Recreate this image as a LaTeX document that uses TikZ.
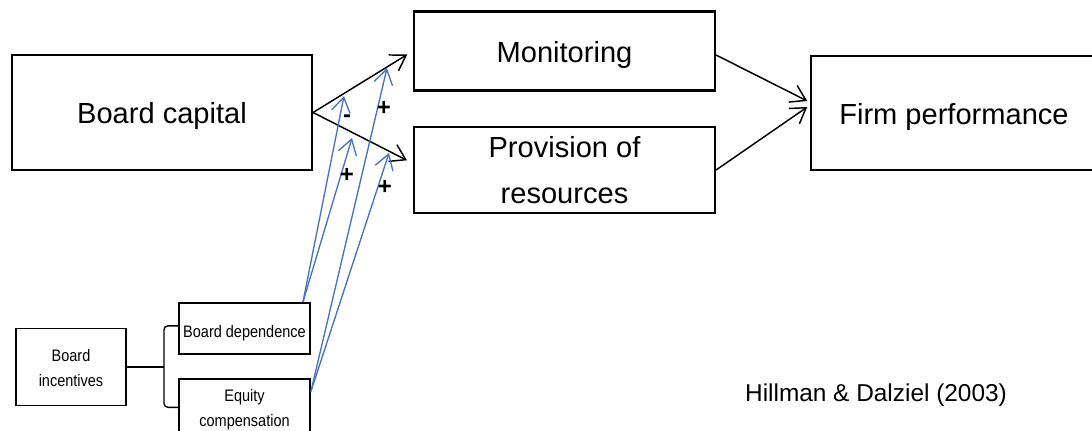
\documentclass[tikz,border=0pt]{standalone}
\usepackage{fontspec}
\setmainfont{Liberation Sans}
\newfontfamily\narrowsf[FakeStretch=0.87]{Liberation Sans}
\usetikzlibrary{arrows.meta,calc}
\definecolor{linkblue}{RGB}{68,114,196}
\tikzset{
  >={Straight Barb[length=11pt,width=14pt]},
  bx/.style={draw,line width=1.6pt,inner sep=0pt,align=center,font=\fontsize{21.8}{34.5}\selectfont},
  one/.style={text height=21pt,text depth=4.5pt},
  sb/.style={draw,line width=1.4pt,inner sep=0pt,align=center,font=\narrowsf\fontsize{12.5}{19}\selectfont},
  ar/.style={->,line width=1.1pt},
  bl/.style={->,draw=linkblue,line width=1pt},
  sg/.style={inner sep=0pt,font=\fontsize{18}{18}\selectfont\bfseries},
}
\begin{document}
\begin{tikzpicture}[x=0.75pt,y=-0.75pt]
\useasboundingbox (0,0) rectangle (1092,430);
\node[bx,one,minimum width=225pt,minimum height=86.25pt] (cap) at (162,112.5) {Board capital};
\node[bx,one,minimum width=225.75pt,minimum height=59.25pt] (mon) at (564.5,51) {Monitoring};
\node[bx,minimum width=225.75pt,minimum height=64.5pt] (prov) at (564.5,170) {\rule{0pt}{16.5pt}Provision of\\resources};
\node[bx,one,minimum width=214.5pt,minimum height=85.5pt] (firm) at (954,113) {Firm performance};
\node[sb,minimum width=82.5pt,minimum height=57.75pt] (inc) at (71,367) {\rule{0pt}{11pt}Board\\incentives};
\node[sb,text height=15.5pt,text depth=2.7pt,minimum width=98.25pt,minimum height=38.25pt] (dep) at (244.5,328.5) {Board dependence};
\node[sb,minimum width=98.25pt,minimum height=46.5pt] (eq) at (244.5,410) {Equity\\compensation};
\draw[ar,shorten >=5pt] (cap.east) -- (mon.west); \draw[ar,shorten >=5pt] (cap.east) -- ([yshift=5pt]prov.west);
\draw[ar] ([yshift=-3pt]mon.east) -- ([xshift=-2pt,yshift=9pt]firm.west);
\draw[ar] (prov.east) -- ([xshift=-2pt,yshift=4.5pt]firm.west);
\coordinate (br) at ($(inc.east)+(37,0)$);
\draw[line width=1pt] (inc.east) -- (br);
\draw[line width=1pt,rounded corners=3pt] ([yshift=2pt]dep.west) -| (br) |- ([yshift=2pt]eq.west);
\coordinate (s1) at ([xshift=-6pt]dep.north east); \coordinate (s2) at ([yshift=-10pt]eq.north east);
\coordinate (m1) at (344,96); \coordinate (p1) at (352,138);
\coordinate (m2) at (387,68); \coordinate (p2) at (389,153);
\draw[bl] (s1) -- (m1); \draw[bl] (s1) -- (p1); \draw[bl] (s2) -- (m2); \draw[bl] (s2) -- (p2);
\node[sg] (g1) at (347,119) {-}; \node[sg] (g2) at (347,175) {+};
\node[sg] (g3) at (384,108) {+}; \node[sg] (g4) at (385,187) {+};
\node[anchor=base,font=\fontsize{18.3}{20}\selectfont] (src) at (876,401) {Hillman \& Dalziel (2003)};
\end{tikzpicture}
\end{document}
